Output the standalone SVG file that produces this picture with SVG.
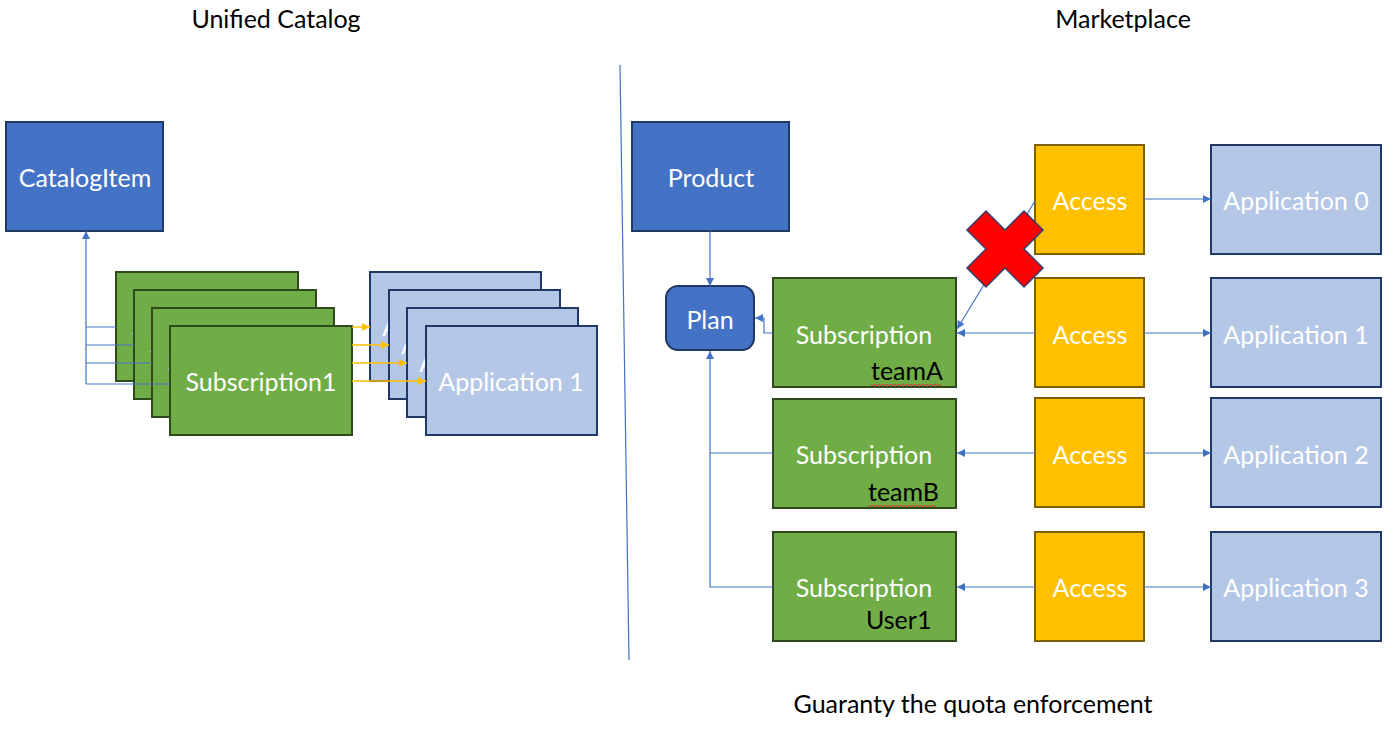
<svg xmlns="http://www.w3.org/2000/svg" width="1393" height="738" viewBox="0 0 1393 738">
<style>
text{font-family:Lato,"Liberation Sans",sans-serif;font-size:25px}
.w{fill:#fff;text-anchor:middle;dominant-baseline:central}
.k{fill:#000}
.t{fill:#000;text-anchor:middle}
.blue{fill:#4472C4;stroke:#1F3864;stroke-width:2}
.grn{fill:#70AD47;stroke:#2E4A1A;stroke-width:2}
.yel{fill:#FFC000;stroke:#7F6000;stroke-width:2}
.lb{fill:#B4C7E7;stroke:#1F3864;stroke-width:2}
.c{fill:none;stroke:#4472C4;stroke-width:1.2}
.cy{fill:none;stroke:#FFC000;stroke-width:1.4}
.sq{fill:none;stroke:#E03030;stroke-width:1}
</style>
<defs>
<marker id="ab" viewBox="0 0 10 10" refX="10" refY="5" markerWidth="9" markerHeight="8" orient="auto" markerUnits="userSpaceOnUse"><path d="M0,0 L10,5 L0,10z" fill="#4472C4"/></marker>
<marker id="ay" viewBox="0 0 10 10" refX="10" refY="5" markerWidth="9" markerHeight="8" orient="auto" markerUnits="userSpaceOnUse"><path d="M0,0 L10,5 L0,10z" fill="#FFC000"/></marker>
</defs>

<g id="titles">
<text class="t" x="276" y="28">Unified Catalog</text>
<text class="t" x="1123" y="28">Marketplace</text>
<text class="t" x="973" y="713">Guaranty the quota enforcement</text>
</g>
<line id="divider" x1="620" y1="65" x2="629" y2="660" stroke="#4472C4" stroke-width="1.2"/>

<!-- Left side -->
<g id="catalogItem"><rect class="blue" x="6" y="122" width="157" height="109"/><text class="w" x="85" y="177">CatalogItem</text></g>
<g id="sub1a"><rect class="grn" x="116" y="272" width="182" height="109"/><text class="w" x="207" y="326">Subscription1</text></g>
<g id="sub1b"><rect class="grn" x="134" y="290" width="182" height="109"/><text class="w" x="225" y="344">Subscription1</text></g>
<g id="sub1c"><rect class="grn" x="152" y="308" width="182" height="109"/><text class="w" x="243" y="362">Subscription1</text></g>
<g id="sub1d"><rect class="grn" x="170" y="326" width="182" height="109"/><text class="w" x="261" y="381">Subscription1</text></g>
<g id="appLa"><rect class="lb" x="370" y="272" width="171" height="109"/><text class="w" x="455" y="326">Application 1</text></g>
<g id="appLb"><rect class="lb" x="389" y="290" width="171" height="109"/><text class="w" x="474" y="344">Application 1</text></g>
<g id="appLc"><rect class="lb" x="407" y="308" width="171" height="109"/><text class="w" x="492" y="362">Application 1</text></g>
<g id="appLd"><rect class="lb" x="426" y="326" width="171" height="109"/><text class="w" x="511" y="381">Application 1</text></g>

<!-- Right side -->
<g id="product"><rect class="blue" x="632" y="122" width="157" height="109"/><text class="w" x="711" y="177">Product</text></g>
<g id="plan"><rect class="blue" x="666" y="286" width="88" height="64" rx="12"/><text class="w" x="710" y="319">Plan</text></g>
<g id="subTeamA"><rect class="grn" x="773" y="278" width="183" height="109"/><text class="w" x="864" y="334">Subscription</text><text class="k" x="871" y="380">teamA</text><path class="sq" d="M871,384 l2,2 l2,-2 l2,2 l2,-2 l2,2 l2,-2 l2,2 l2,-2 l2,2 l2,-2 l2,2 l2,-2 l2,2 l2,-2 l2,2 l2,-2 l2,2 l2,-2 l2,2 l2,-2 l2,2 l2,-2 l2,2 l2,-2 l2,2 l2,-2 l2,2 l2,-2 l2,2 l2,-2 l2,2 l2,-2 l2,2 l2,-2 l2,2"/></g>
<g id="subTeamB"><rect class="grn" x="773" y="399" width="183" height="109"/><text class="w" x="864" y="454">Subscription</text><text class="k" x="868" y="501">teamB</text><path class="sq" d="M868,505 l2,2 l2,-2 l2,2 l2,-2 l2,2 l2,-2 l2,2 l2,-2 l2,2 l2,-2 l2,2 l2,-2 l2,2 l2,-2 l2,2 l2,-2 l2,2 l2,-2 l2,2 l2,-2 l2,2 l2,-2 l2,2 l2,-2 l2,2 l2,-2 l2,2 l2,-2 l2,2 l2,-2 l2,2 l2,-2 l2,2 l2,-2"/></g>
<g id="subUser1"><rect class="grn" x="773" y="532" width="183" height="109"/><text class="w" x="864" y="587">Subscription</text><text class="k" x="866" y="629">User1</text></g>

<g id="access0"><rect class="yel" x="1035" y="145" width="109" height="109"/><text class="w" x="1090" y="200">Access</text></g>
<g id="access1"><rect class="yel" x="1035" y="278" width="109" height="109"/><text class="w" x="1090" y="334">Access</text></g>
<g id="access2"><rect class="yel" x="1035" y="398" width="109" height="109"/><text class="w" x="1090" y="454">Access</text></g>
<g id="access3"><rect class="yel" x="1035" y="532" width="109" height="109"/><text class="w" x="1090" y="587">Access</text></g>

<g id="app0"><rect class="lb" x="1211" y="145" width="170" height="109"/><text class="w" x="1296" y="200">Application 0</text></g>
<g id="app1"><rect class="lb" x="1211" y="278" width="170" height="109"/><text class="w" x="1296" y="334">Application 1</text></g>
<g id="app2"><rect class="lb" x="1211" y="398" width="170" height="109"/><text class="w" x="1296" y="454">Application 2</text></g>
<g id="app3"><rect class="lb" x="1211" y="532" width="170" height="109"/><text class="w" x="1296" y="587">Application 3</text></g>

<g id="connectors">
<path class="c" d="M86,327 V231" marker-end="url(#ab)"/>
<path class="c" d="M86,327 H116 M86,345 H134 M86,363 H152 M86,384 H170 M86,327 V384"/>
<path class="cy" d="M352,327 H370" marker-end="url(#ay)"/>
<path class="cy" d="M352,345 H389" marker-end="url(#ay)"/>
<path class="cy" d="M352,363 H407" marker-end="url(#ay)"/>
<path class="cy" d="M352,381 H426" marker-end="url(#ay)"/>

<path class="c" d="M710,231 V286" marker-end="url(#ab)"/>
<path class="c" d="M773,333 H764 V318 H755" marker-end="url(#ab)"/>
<path class="c" d="M773,587 H710 V351" marker-end="url(#ab)"/>
<path class="c" d="M773,453 H710"/>
<path class="c" d="M1035,201 L957,329" marker-end="url(#ab)"/>
<path class="c" d="M1035,333 H957" marker-end="url(#ab)"/>
<path class="c" d="M1035,453 H957" marker-end="url(#ab)"/>
<path class="c" d="M1035,587 H957" marker-end="url(#ab)"/>
<path class="c" d="M1144,199 H1211" marker-end="url(#ab)"/>
<path class="c" d="M1144,333 H1211" marker-end="url(#ab)"/>
<path class="c" d="M1144,453 H1211" marker-end="url(#ab)"/>
<path class="c" d="M1144,587 H1211" marker-end="url(#ab)"/>
</g>

<g id="redX"><polygon transform="translate(1005,249)" points="-19,-38 0,-19 19,-38 38,-19 19,0 38,19 19,38 0,19 -19,38 -38,19 -19,0 -38,-19" fill="#FF0000" stroke="#2F3F6F" stroke-width="1.5"/></g>
</svg>
